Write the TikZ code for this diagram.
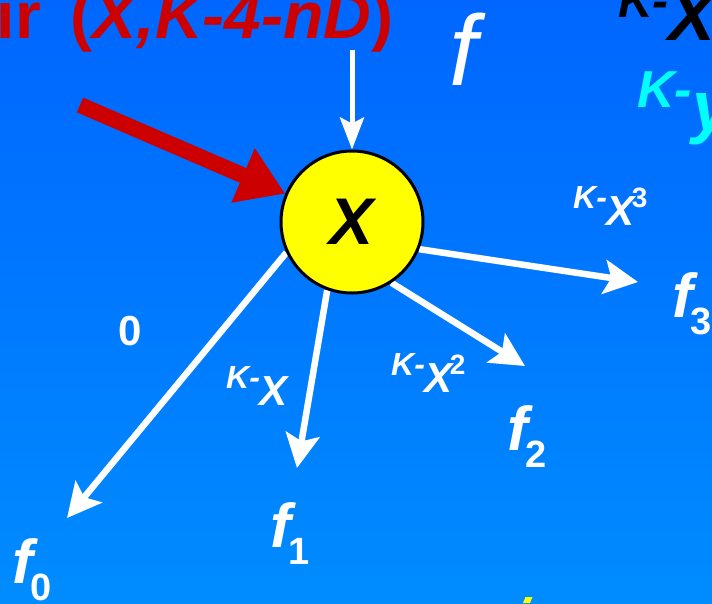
\documentclass[tikz,border=0pt]{standalone}
\usepackage{fontspec}
\setmainfont{Liberation Sans}
\usetikzlibrary{arrows.meta,backgrounds}
\definecolor{bgtop}{HTML}{0066FF}
\definecolor{bgbot}{HTML}{008CFF}
\definecolor{redarr}{HTML}{CC0000}
\definecolor{vyel}{RGB}{255,255,0}
\definecolor{kcyan}{RGB}{0,255,255}
\tikzset{
  fanout/.style={white,line width=6.5pt,-{Stealth[length=34pt,width=34pt,inset=7pt]}},
  fanin/.style={white,line width=5pt,-{Stealth[length=32pt,width=24pt,inset=6pt]}},
  hot/.style={redarr,line width=16pt,-{Triangle[length=46pt,width=56pt]}},
  lbl/.style={inner sep=0pt,text=white,font=\bfseries\itshape},
  vtx/.style={circle,draw=black,line width=3pt,fill=vyel,minimum size=142pt,inner sep=0pt}
}
\newcommand{\fsz}[1]{\fontsize{#1}{#1}\selectfont}
\newcommand{\fout}[1]{{\fsz{62}f}\kern-2pt\raisebox{-17pt}{\fsz{38}\upshape#1}}
\newcommand{\kpow}[1]{\raisebox{17pt}{\fsz{32}K-}{\fsz{42}X}\kern-3pt\raisebox{18pt}{\fsz{28}\upshape#1}}

\begin{document}
\begin{tikzpicture}[x=1pt,y=-1pt]
\useasboundingbox (0,0) rectangle (712,603);
% the vertex
\node[vtx,font=\bfseries\itshape] (cx) at (352,222) {\fsz{66}X};
% texts cut by the frame
\node[anchor=base west,inner sep=0pt,text=redarr,font=\bfseries] (ttl) at (-40,38) {\fsz{66}air\hspace{30pt}(\textit{X,K-4-nD})\hspace{0pt}};
\node[anchor=base west,inner sep=0pt,font=\bfseries\itshape] (kxt) at (618,40) {\raisebox{23pt}{\fsz{48}K-}\fsz{70}X};
\node[anchor=base west,inner sep=0pt,text=kcyan,font=\bfseries\itshape] (kyt) at (637,130) {\raisebox{23pt}{\fsz{52}K-}\fsz{70}y};
\fill[vyel] (523,603) -- (525.5,597) -- (532.5,597) -- (530,603) -- cycle;
% ends of the edges
\coordinate (src) at (352,50);
\coordinate (hs) at (80,105);
\coordinate (t0) at (67,518);
\coordinate (t1) at (297,468);
\coordinate (t2) at (525,366);
\coordinate (t3) at (638,282);
\begin{scope}[on background layer]
\shade[top color=bgtop,bottom color=bgbot] (0,0) rectangle (712,603);
\draw[hot] (hs) -- (cx.157);
\draw[fanin] (src) -- (cx.north);
\draw[fanout] (cx.205) -- (t0);
\draw[fanout] (cx.250) -- (t1);
\draw[fanout] (cx.303) -- (t2);
\draw[fanout] (cx.338) -- (t3);
\end{scope}
% labels
\node[lbl,font=\itshape,anchor=base west] (fin) at (449,85) {\fsz{100}f};
\node[lbl,font=\bfseries,anchor=base] (zero) at (130,345) {\fsz{42}0};
\node[lbl,anchor=base west] (kx1) at (226,405) {\kpow{}};
\node[lbl,anchor=base west] (kx2) at (391,392) {\kpow{2}};
\node[lbl,anchor=base west] (kx3) at (573,225) {\kpow{3}};
\node[lbl,anchor=base west] (f0) at (12,583) {\fout{0}};
\node[lbl,anchor=base west] (f1) at (270,547) {\fout{1}};
\node[lbl,anchor=base west] (f2) at (507,450) {\fout{2}};
\node[lbl,anchor=base west] (f3) at (672,317) {\fout{3}};
\end{tikzpicture}
\end{document}
